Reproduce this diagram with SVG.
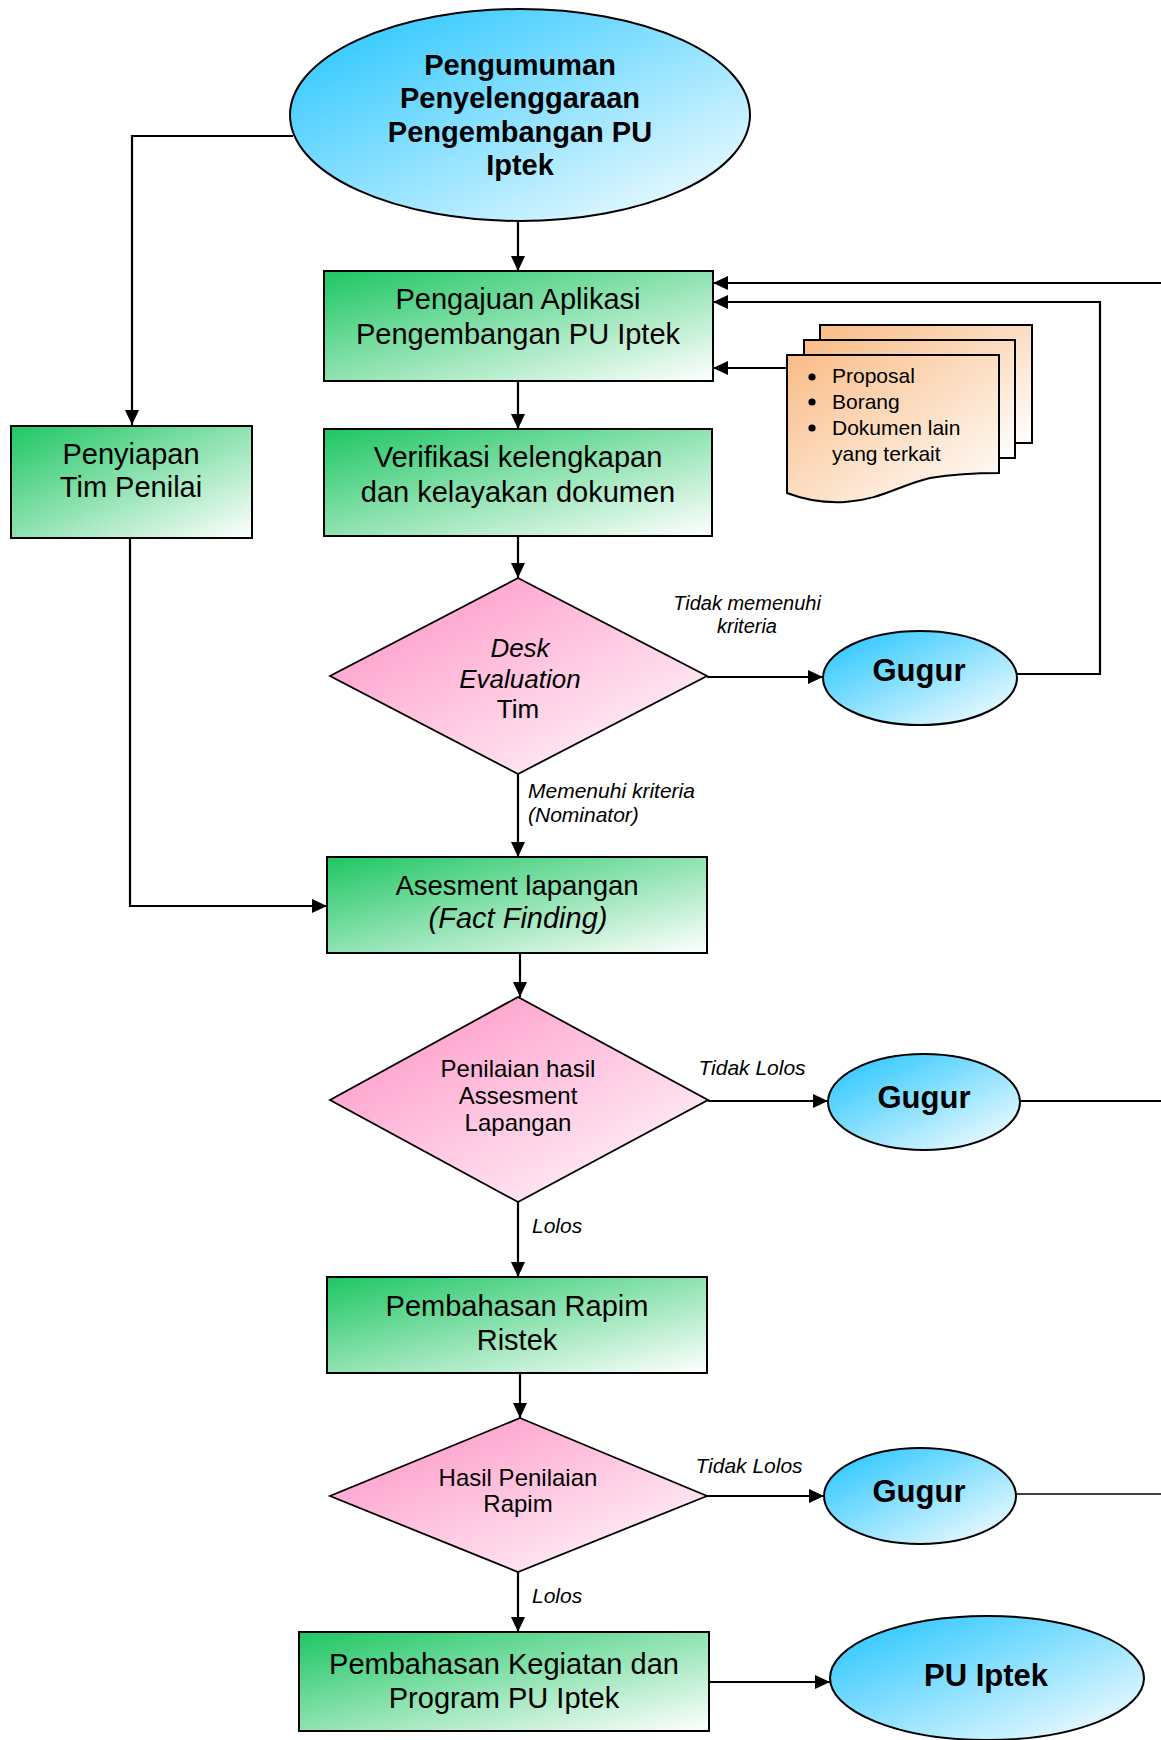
<svg xmlns="http://www.w3.org/2000/svg" width="1161" height="1740" viewBox="0 0 1161 1740">
<style>
.t{font-family:"Liberation Sans",Arial,sans-serif;fill:#000;text-anchor:middle}
.b{font-weight:bold}
.i{font-style:italic}
.box{fill:url(#gGreen);stroke:#000;stroke-width:2}
.dia{fill:url(#gPink);stroke:#000;stroke-width:1.8}
.ell{fill:url(#gBlue);stroke:#000;stroke-width:2}
.doc{fill:url(#gPeach);stroke:#000;stroke-width:2}
.c{fill:none;stroke:#000;stroke-width:2.2}
.ca{fill:none;stroke:#000;stroke-width:2.2;marker-end:url(#ah)}
</style>
<defs>
<linearGradient id="gGreen" x1="0" y1="0" x2="1" y2="1"><stop offset="0" stop-color="#1EC663"/><stop offset="1" stop-color="#FFFFFF"/></linearGradient>
<linearGradient id="gPink" x1="0" y1="0" x2="1" y2="1"><stop offset="0.15" stop-color="#FF9ECB"/><stop offset="1" stop-color="#FFFFFF"/></linearGradient>
<linearGradient id="gBlue" x1="0" y1="0" x2="1" y2="1"><stop offset="0.1" stop-color="#33C9FF"/><stop offset="1" stop-color="#FFFFFF"/></linearGradient>
<linearGradient id="gPeach" x1="0" y1="0" x2="1" y2="1"><stop offset="0" stop-color="#F9BC86"/><stop offset="1" stop-color="#FFFFFF"/></linearGradient>
<marker id="ah" markerWidth="15" markerHeight="14" refX="15" refY="7" orient="auto" markerUnits="userSpaceOnUse"><path d="M0,0 L15,7 L0,14 z" fill="#000"/></marker>
</defs>

<g id="connectors">
<path class="ca" d="M518,221 V271"/>
<path class="ca" d="M518,381 V429"/>
<path class="ca" d="M518,536 V578"/>
<path class="ca" d="M518,774 V857"/>
<path class="ca" d="M520,953 V997"/>
<path class="ca" d="M518,1202 V1277"/>
<path class="ca" d="M520,1373 V1418"/>
<path class="ca" d="M518,1572 V1632"/>
<path class="ca" d="M709,1682 H830"/>
<path class="ca" d="M707,677 H823"/>
<path class="ca" d="M708,1101 H828"/>
<path class="ca" d="M707,1496 H824"/>
<path class="ca" d="M293,136 H132 V425"/>
<path class="ca" d="M130,538 V906 H327"/>
<path class="ca" d="M1161,283 H713"/>
<path class="ca" d="M1017,674 H1100 V302 H713"/>
<path class="ca" d="M787,368 H713"/>
<path class="c" d="M1021,1101 H1161"/>
<path class="c" d="M1016,1494 H1161" style="stroke-width:1.6"/>
<text class="t i" x="747" y="610" font-size="20">Tidak memenuhi</text>
<text class="t i" x="747" y="633" font-size="20">kriteria</text>
<text class="t i" x="528" y="798" font-size="21" style="text-anchor:start">Memenuhi kriteria</text>
<text class="t i" x="528" y="822" font-size="21" style="text-anchor:start">(Nominator)</text>
<text class="t i" x="752" y="1075" font-size="21">Tidak Lolos</text>
<text class="t i" x="532" y="1233" font-size="21" style="text-anchor:start">Lolos</text>
<text class="t i" x="749" y="1473" font-size="21">Tidak Lolos</text>
<text class="t i" x="532" y="1603" font-size="21" style="text-anchor:start">Lolos</text>
</g>

<g id="n-pengumuman">
<ellipse class="ell" cx="520" cy="115" rx="230" ry="106"/>
<text class="t b" x="520" y="75" font-size="29">Pengumuman</text>
<text class="t b" x="520" y="108" font-size="29">Penyelenggaraan</text>
<text class="t b" x="520" y="142" font-size="29">Pengembangan PU</text>
<text class="t b" x="520" y="175" font-size="29">Iptek</text>
</g>

<g id="n-pengajuan">
<rect class="box" x="324" y="271" width="389" height="110"/>
<text class="t" x="518" y="309" font-size="29">Pengajuan Aplikasi</text>
<text class="t" x="518" y="344" font-size="29">Pengembangan PU Iptek</text>
</g>

<g id="n-dokumen">
<rect class="doc" x="820" y="325" width="212" height="118"/>
<rect class="doc" x="804" y="340" width="211" height="118"/>
<path class="doc" d="M787,355 H999 V473 C980,473 955,474 930,478 C900,485 880,500 845,502 C825,503 805,500 787,493 Z"/>
<g font-size="21">
<circle cx="812" cy="377" r="3.6"/>
<circle cx="812" cy="402" r="3.6"/>
<circle cx="812" cy="428" r="3.6"/>
<text class="t" x="832" y="383" style="text-anchor:start">Proposal</text>
<text class="t" x="832" y="409" style="text-anchor:start">Borang</text>
<text class="t" x="832" y="435" style="text-anchor:start">Dokumen lain</text>
<text class="t" x="832" y="461" style="text-anchor:start">yang terkait</text>
</g>
</g>

<g id="n-penyiapan">
<rect class="box" x="11" y="426" width="241" height="112"/>
<text class="t" x="131" y="464" font-size="29">Penyiapan</text>
<text class="t" x="131" y="497" font-size="29">Tim Penilai</text>
</g>

<g id="n-verifikasi">
<rect class="box" x="324" y="429" width="388" height="107"/>
<text class="t" x="518" y="467" font-size="29">Verifikasi kelengkapan</text>
<text class="t" x="518" y="502" font-size="29">dan kelayakan dokumen</text>
</g>

<g id="n-desk">
<path class="dia" d="M518,578 L707,676 L518,774 L330,676 Z"/>
<text class="t i" x="520" y="657" font-size="26">Desk</text>
<text class="t i" x="520" y="688" font-size="26">Evaluation</text>
<text class="t" x="518" y="718" font-size="26">Tim</text>
</g>

<g id="n-gugur1">
<ellipse class="ell" cx="920" cy="678" rx="97" ry="47"/>
<text class="t b" x="919" y="681" font-size="31">Gugur</text>
</g>

<g id="n-asesment">
<rect class="box" x="327" y="857" width="380" height="96"/>
<text class="t" x="517" y="895" font-size="27.5">Asesment lapangan</text>
<text class="t i" x="518" y="928" font-size="29">(Fact Finding)</text>
</g>

<g id="n-penilaian">
<path class="dia" d="M518,997 L708,1100 L518,1202 L330,1100 Z"/>
<text class="t" x="518" y="1077" font-size="24">Penilaian hasil</text>
<text class="t" x="518" y="1104" font-size="24">Assesment</text>
<text class="t" x="518" y="1131" font-size="24">Lapangan</text>
</g>

<g id="n-gugur2">
<ellipse class="ell" cx="924" cy="1102" rx="96" ry="48"/>
<text class="t b" x="924" y="1108" font-size="31">Gugur</text>
</g>

<g id="n-rapim">
<rect class="box" x="327" y="1277" width="380" height="96"/>
<text class="t" x="517" y="1316" font-size="29">Pembahasan Rapim</text>
<text class="t" x="517" y="1350" font-size="29">Ristek</text>
</g>

<g id="n-hasil">
<path class="dia" d="M520,1418 L707,1496 L518,1572 L330,1496 Z"/>
<text class="t" x="518" y="1486" font-size="24">Hasil Penilaian</text>
<text class="t" x="518" y="1512" font-size="24">Rapim</text>
</g>

<g id="n-gugur3">
<ellipse class="ell" cx="920" cy="1496" rx="96" ry="48"/>
<text class="t b" x="919" y="1502" font-size="31">Gugur</text>
</g>

<g id="n-pembahasan">
<rect class="box" x="299" y="1632" width="410" height="99"/>
<text class="t" x="504" y="1674" font-size="29">Pembahasan Kegiatan dan</text>
<text class="t" x="504" y="1708" font-size="29">Program PU Iptek</text>
</g>

<g id="n-puiptek">
<ellipse class="ell" cx="987" cy="1678" rx="157" ry="62"/>
<text class="t b" x="986" y="1686" font-size="31">PU Iptek</text>
</g>
</svg>
